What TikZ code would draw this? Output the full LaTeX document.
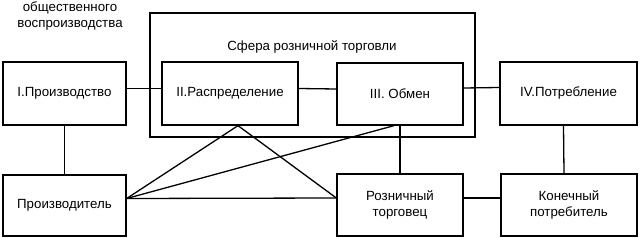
\documentclass[tikz,border=0pt]{standalone}
\usepackage{fontspec}
\setmainfont{Liberation Sans}
\usepackage{tikz}
\usetikzlibrary{positioning, calc}

\begin{document}
\begin{tikzpicture}[x=1pt, y=-1pt,
    sbox/.style={rectangle, draw, line width=1.3pt, inner sep=2pt, align=center,
      font=\fontsize{13.3}{16}\selectfont},
    sline/.style={line width=1.3pt}
  ]
  \useasboundingbox (0,0) rectangle (640,238);

  % outer frame: retail sphere
  \node[sbox, minimum width=325pt, minimum height=124pt] (sphere) at (312.5,75) {};
  \node[font=\fontsize{13.3}{16}\selectfont] (spheretitle) at (312,47) {Сфера розничной торговли};
  \node[font=\fontsize{13.3}{16}\selectfont, align=center] (heading) at (70,16.5) {общественного\\воспроизводства};

  % stages
  \node[sbox, minimum width=123pt, minimum height=63pt] (prod) at (64.5,93.5) {I.Производство};
  \node[sbox, minimum width=136pt, minimum height=63pt] (distr) at (230,93.5) {II.Распределение};
  \node[sbox, minimum width=126pt, minimum height=62pt] (exch) at (400,94) {III. Обмен};
  \node[sbox, minimum width=137pt, minimum height=63pt] (cons) at (568.5,93.5) {IV.Потребление};

  % participants
  \node[sbox, minimum width=123pt, minimum height=61pt] (maker) at (64.5,205.5) {Производитель};
  \node[sbox, minimum width=126pt, minimum height=62pt] (retailer) at (400,205) {Розничный\\торговец};
  \node[sbox, minimum width=136pt, minimum height=62pt] (buyer) at (569,205) {Конечный\\потребитель};

  \draw[sline] ([yshift=5pt]prod.east) -- ([yshift=5pt]distr.west);
  \draw[sline] ([yshift=5pt]distr.east) -- ([yshift=5pt]exch.west);
  \draw[sline] ([yshift=6pt]exch.east) -- ([yshift=6pt]cons.west);

  \draw[sline] (prod) -- (maker);
  \draw[sline] (exch) -- (retailer);
  \draw[sline] ([xshift=-5pt]cons.south) -- ([xshift=-5pt]buyer.north);

  \draw[sline] ([yshift=7pt]maker.east) -- ([yshift=7pt]retailer.west);
  \draw[sline] ([yshift=7pt]retailer.east) -- ([yshift=7pt]buyer.west);

  \draw[sline] ([yshift=7pt]maker.east) -- ([xshift=8pt]distr.south)
    -- ([yshift=7pt]retailer.west);
  \draw[sline] ([yshift=7pt]maker.east) -- ([xshift=-6pt]exch.south);
\end{tikzpicture}
\end{document}
